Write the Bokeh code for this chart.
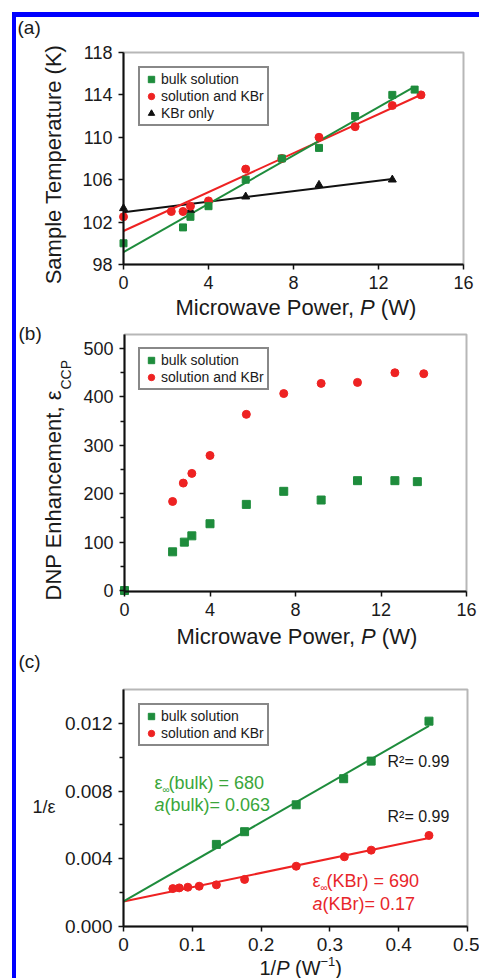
import numpy as np
from bokeh.plotting import figure
from bokeh.models import (Label, Legend, LegendItem, FixedTicker, NumeralTickFormatter,
                          Range1d, BoxAnnotation)
from bokeh.layouts import column
from bokeh.embed import file_html
from bokeh.resources import INLINE

# ---------------- data ----------------
series_names = ["bulk solution", "solution and KBr", "KBr only"]

# (a) sample temperature vs microwave power
power_a_bulk = [0, 2.8, 3.15, 4.0, 5.75, 7.45, 9.2, 10.9, 12.65, 13.7]
temp_a_bulk = [100.0, 101.5, 102.5, 103.5, 106.0, 108.0, 109.0, 112.0, 114.0, 114.5]
power_a_kbr = [0, 2.25, 2.8, 3.15, 4.0, 5.75, 7.45, 9.2, 10.9, 12.65, 14.0]
temp_a_kbr = [102.5, 103.0, 103.0, 103.5, 104.0, 107.0, 108.0, 110.0, 111.0, 113.0, 114.0]
power_a_only = [0, 3.15, 5.75, 9.2, 12.65]
temp_a_only = [103.3, 103.1, 104.4, 105.5, 106.0]

# (b) DNP enhancement vs microwave power
power_b_bulk = [0, 2.25, 2.8, 3.15, 4.0, 5.7, 7.45, 9.2, 10.9, 12.65, 13.7]
eps_b_bulk = [0, 80, 100, 113, 138, 178, 205, 187, 227, 227, 225]
power_b_kbr = [0, 2.25, 2.75, 3.15, 4.0, 5.7, 7.45, 9.2, 10.9, 12.65, 14.0]
eps_b_kbr = [0, 184, 222, 242, 279, 364, 407, 428, 430, 450, 448]

# (c) 1/eps vs 1/P
invp_c_bulk = [0.444, 0.360, 0.320, 0.251, 0.176, 0.135]
inveps_c_bulk = [0.01213, 0.00977, 0.00873, 0.00719, 0.00560, 0.00485]
invp_c_kbr = [0.444, 0.360, 0.321, 0.251, 0.176, 0.135, 0.110, 0.0935, 0.081, 0.0717]
inveps_c_kbr = [0.00538, 0.00451, 0.00412, 0.00356, 0.00278, 0.00246, 0.00238, 0.00232, 0.00228, 0.00224]

# axis ticks
power_ticks = [0, 4, 8, 12, 16]
temp_ticks = [98, 102, 106, 110, 114, 118]
eps_ticks = [0, 100, 200, 300, 400, 500]
eps_minor = [50, 150, 250, 350, 450]
invp_ticks = [0, 0.1, 0.2, 0.3, 0.4, 0.5]
inveps_ticks = [0, 0.004, 0.008, 0.012]
inveps_minor = [0.002, 0.006, 0.010]

# ---------------- style ----------------
GREEN = "#1e8c3c"
RED = "#ee2222"
BLACK = "#111111"
GREEN_TXT = "#3aa63a"
RED_TXT = "#e8262b"
FONT = "Liberation Sans"
FIG_LEFT = 16
W = 463


def fit_line(x, y, x0=0.0):
    c = np.polyfit(np.asarray(x, float), np.asarray(y, float), 1)
    xs = np.array([x0, max(x)])
    return xs, np.polyval(c, xs)


class Panel:
    """A figure whose drawing area is the whole canvas; the axes are pinned
    (fixed_location) to the edges of the data box given by xr / yr."""

    def __init__(self, fig_top, height, frame, xr, yr, xticks, yticks, yminor=None,
                 tick_size="18px"):
        L, R, T, B = frame
        self.fig_top, self.height = fig_top, height
        sx = (xr[1] - xr[0]) / (R - L)
        sy = (yr[1] - yr[0]) / (B - T)
        fx = (xr[0] - (L - FIG_LEFT) * sx, xr[1] + (FIG_LEFT + W - R) * sx)
        fy = (yr[0] - (fig_top + height - B) * sy, yr[1] + (T - fig_top) * sy)
        self.fx, self.fy = fx, fy
        p = figure(width=W, height=height, x_range=Range1d(*fx), y_range=Range1d(*fy),
                   output_backend="svg", toolbar_location=None,
                   min_border_left=0, min_border_right=0, min_border_top=0, min_border_bottom=0)
        p.grid.visible = False
        p.background_fill_color = "white"
        p.border_fill_color = "white"
        p.outline_line_color = None
        xa, ya = p.xaxis[0], p.yaxis[0]
        xa.fixed_location = yr[0]
        ya.fixed_location = xr[0]
        xa.bounds = xr
        ya.bounds = yr
        xa.ticker = FixedTicker(ticks=xticks, minor_ticks=[])
        ya.ticker = FixedTicker(ticks=yticks, minor_ticks=yminor or [])
        for ax in (xa, ya):
            ax.axis_line_color = BLACK
            ax.axis_line_width = 2
            ax.major_tick_in = 0
            ax.major_tick_out = 5
            ax.minor_tick_in = 0
            ax.minor_tick_out = 4
            ax.major_tick_line_width = 1.5
            ax.minor_tick_line_width = 1.5
            ax.major_tick_line_color = BLACK
            ax.minor_tick_line_color = BLACK
            ax.major_label_text_font = FONT
            ax.major_label_text_font_size = tick_size
            ax.major_label_text_color = "#1a1a1a"
            ax.major_label_standoff = 6
        p.add_layout(BoxAnnotation(left=xr[0], right=xr[1], bottom=yr[0], top=yr[1],
                                   fill_alpha=0, line_color=BLACK, line_width=2))
        self.p = p

    def d(self, px, py):
        x = self.fx[0] + (px - FIG_LEFT) / W * (self.fx[1] - self.fx[0])
        y = self.fy[0] + (self.fig_top + self.height - py) / self.height * (self.fy[1] - self.fy[0])
        return x, y

    def text(self, px, py, txt, size, color="#1a1a1a", style="normal", align="left",
             rotated=False):
        # (px, py): page position of the text baseline; drawn with a middle baseline
        fs = float(size.replace("px", ""))
        if rotated:
            px = px - 0.35 * fs
        else:
            py = py - 0.35 * fs
        x, y = self.d(px, py)
        self.p.add_layout(Label(x=x, y=y, text=txt, text_font=FONT, text_font_size=size,
                                text_font_style=style, text_color=color, text_align=align,
                                text_baseline="middle", angle=(np.pi / 2 if rotated else 0.0)))

    def legend(self, items, box_left, box_top):
        n = len(items)
        h = 2 * 3 + n * 16 + (n - 1) * 1
        loc = (box_left - FIG_LEFT, self.fig_top + self.height - (box_top + h))
        lg = Legend(items=[LegendItem(label=nm, renderers=[r]) for nm, r in items],
                    location=loc, padding=3, spacing=1,
                    glyph_width=16, glyph_height=16, label_height=16, label_standoff=2,
                    label_text_font=FONT, label_text_font_size="14px",
                    label_text_color="#1a1a1a",
                    border_line_color=BLACK, border_line_width=2,
                    background_fill_color="white", background_fill_alpha=1.0)
        self.p.add_layout(lg)


def power_title(panel, baseline, center):
    start = center - 121
    p_left = start + 186
    panel.text(p_left - 6, baseline, "Microwave Power,", "22px", align="right")
    panel.text(p_left, baseline, "P", "22px", style="italic")
    panel.text(p_left + 14.7 + 6.1, baseline, "(W)", "22px")


# ---------------- panel (a) ----------------
A = Panel(17, 303, (123, 463, 52, 264), (0, 16), (98, 118), power_ticks, temp_ticks)
pa = A.p
for xs_, ys_, col in ((power_a_only, temp_a_only, BLACK), (power_a_kbr, temp_a_kbr, RED),
                      (power_a_bulk, temp_a_bulk, GREEN)):
    fx_, fy_ = fit_line(xs_, ys_)
    pa.line(fx_, fy_, line_color=col, line_width=2)
ra3 = pa.scatter(power_a_only, temp_a_only, marker="triangle", size=8, fill_color=BLACK, line_color=BLACK)
ra2 = pa.scatter(power_a_kbr, temp_a_kbr, marker="circle", size=8, fill_color=RED, line_color=RED)
ra1 = pa.scatter(power_a_bulk, temp_a_bulk, marker="square", size=7, fill_color=GREEN, line_color=GREEN)
A.legend([(series_names[0], ra1), (series_names[1], ra2), (series_names[2], ra3)], 138, 70)
A.text(17, 34, "(a)", "19px")
A.text(61, 164, "Sample Temperature (K)", "22px", align="center", rotated=True)
power_title(A, 315, 294.5)

# ---------------- panel (b) ----------------
B = Panel(320, 330, (124, 466, 334, 591), (0, 16), (-2, 529), power_ticks, eps_ticks, eps_minor)
pb = B.p
rb2 = pb.scatter(power_b_kbr, eps_b_kbr, marker="circle", size=8, fill_color=RED, line_color=RED)
rb1 = pb.scatter(power_b_bulk, eps_b_bulk, marker="square", size=8, fill_color=GREEN, line_color=GREEN)
B.legend([(series_names[0], rb1), (series_names[1], rb2)], 138, 351)
B.text(18, 340, "(b)", "19px")
B.text(61, 600, "DNP Enhancement, \u03b5", "22px", rotated=True)
B.text(70, 389, "CCP", "14px", rotated=True)
power_title(B, 644, 295.5)

# ---------------- panel (c) ----------------
C = Panel(650, 328, (123, 467, 689, 926), (0, 0.5), (0, 0.014), invp_ticks, inveps_ticks,
          inveps_minor, tick_size="19px")
pc = C.p
pc.xaxis.formatter = NumeralTickFormatter(format="0.[0]")
pc.yaxis.formatter = NumeralTickFormatter(format="0.000")
for xs_, ys_, col in ((invp_c_kbr, inveps_c_kbr, RED), (invp_c_bulk, inveps_c_bulk, GREEN)):
    fx_, fy_ = fit_line(xs_, ys_)
    pc.line(fx_, fy_, line_color=col, line_width=2)
rc2 = pc.scatter(invp_c_kbr, inveps_c_kbr, marker="circle", size=8, fill_color=RED, line_color=RED)
rc1 = pc.scatter(invp_c_bulk, inveps_c_bulk, marker="square", size=8, fill_color=GREEN, line_color=GREEN)
C.legend([(series_names[0], rc1), (series_names[1], rc2)], 138, 707)
C.text(18, 668, "(c)", "19px")
C.text(32, 813, "1/\u03b5", "18px")
# x title: 1/P (W^-1)
C.text(259, 974, "1/", "20px")
C.text(275.7, 974, "P", "20px", style="italic")
C.text(294.6, 974, "(W", "20px")
C.text(320, 966, "\u22121", "13px")
C.text(334.8, 974, ")", "20px")
# annotations
C.text(154, 789, "\u03b5", "18px", color=GREEN_TXT)
C.text(162, 792, "\u221e", "10px", color=GREEN_TXT)
C.text(168, 789, "(bulk) = 680", "18px", color=GREEN_TXT)
C.text(154, 811, "a", "18px", color=GREEN_TXT, style="italic")
C.text(164, 811, "(bulk)= 0.063", "18px", color=GREEN_TXT)
C.text(387, 767, "R\u00b2= 0.99", "16px")
C.text(387, 822, "R\u00b2= 0.99", "16px")
C.text(312, 887, "\u03b5", "18px", color=RED_TXT)
C.text(320, 890, "\u221e", "10px", color=RED_TXT)
C.text(326, 887, "(KBr) = 690", "18px", color=RED_TXT)
C.text(312, 910, "a", "18px", color=RED_TXT, style="italic")
C.text(322, 910, "(KBr)= 0.17", "18px", color=RED_TXT)

layout = column(pa, pb, pc, margin=(12, 0, 0, 12),
                styles={"border-left": "4px solid #0000ff", "border-top": "5px solid #0000ff"})

with open("out.html", "w") as f:
    f.write(file_html(layout, INLINE))
